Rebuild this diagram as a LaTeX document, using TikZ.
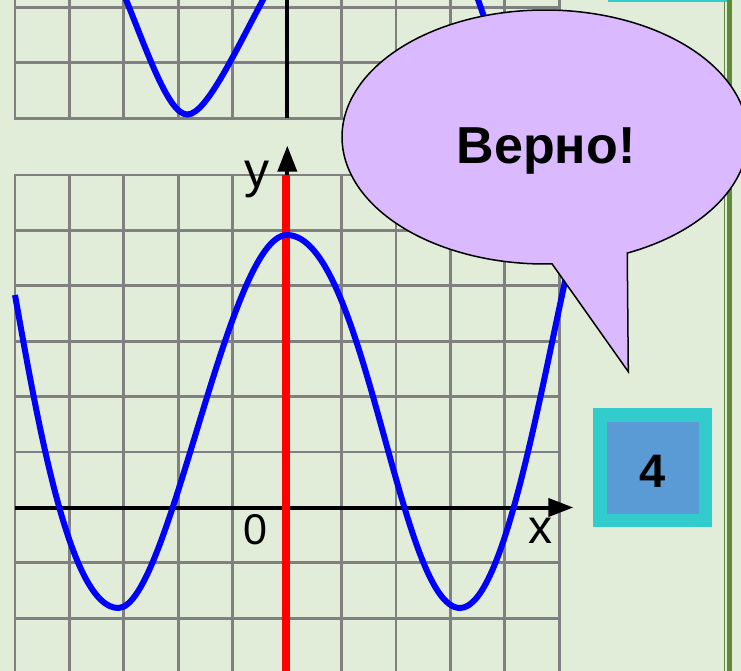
\documentclass[tikz,border=0pt]{standalone}
\usepackage{fontspec}
\setmainfont{Liberation Sans}
\usetikzlibrary{arrows.meta}
\definecolor{bg}{HTML}{E1EDD9}
\definecolor{gridgray}{HTML}{808080}
\definecolor{lav}{HTML}{DBB9FF}
\definecolor{cyanb}{HTML}{33CCCC}
\definecolor{bluef}{HTML}{5B9BD5}
\definecolor{barg}{HTML}{5E8A3A}
\begin{document}
\begin{tikzpicture}[x=1pt,y=-1pt,
  gridline/.style={draw=gridgray, line width=2.8pt},
  curve/.style={draw=blue, line width=6pt},
  axisline/.style={draw=black, line width=4pt},
  answerbox/.style={draw=cyanb, line width=13.3pt, fill=bluef, minimum width=105.7pt, minimum height=105.7pt, inner sep=0pt},
  lbl/.style={anchor=base, inner sep=0pt, text=black}]
\useasboundingbox (0,0) rectangle (741,671);
\clip (0,0) rectangle (741,671);
\fill[bg] (0,0) rectangle (741,671);
% upper grid
\foreach \i in {0,...,10} \draw[gridline] ({15+\i*54.43},-10) -- ({15+\i*54.43},118.3);
\foreach \yy in {7.5,62.9,118.3} \draw[gridline, line cap=rect] (15,\yy) -- (559.3,\yy);
% lower grid
\foreach \i in {0,...,10} \draw[gridline] ({15+\i*54.43},175) -- ({15+\i*54.43},690);
\foreach \j in {0,...,8} \draw[gridline, line cap=rect] (15,{175+\j*55.4}) -- (559.3,{175+\j*55.4});
% upper axis
\coordinate (uya) at (287.3,-10);
\coordinate (uyb) at (287.3,118.3);
\draw[draw=black, line width=4.2pt] (uya) -- (uyb);
% lower axes
\coordinate (xs) at (15,507.5);
\coordinate (xe) at (573.3,507.5);
\draw[axisline, -{Triangle[length=25pt,width=18pt]}] (xs) -- (xe);
\coordinate (ys) at (287.3,690);
\coordinate (ye) at (287.3,145.7);
\draw[axisline, -{Triangle[length=26pt,width=19pt]}] (ys) -- (ye);
\coordinate (rs) at (285.7,690);
\coordinate (re) at (285.7,175);
\draw[draw=red, line width=8pt] (rs) -- (re);
% upper curve
\draw[curve] (120,-15) .. controls (145.2,45) and (167.3,114.5) .. (187.3,114.5)
  .. controls (207.3,114.5) and (238,45) .. (271,-15);
\draw[curve] (474,-12) -- (492,40);
% lower curve
\draw[curve] (15,295) .. controls (38,424) and (70,608) .. (118.3,608)
  .. controls (168.9,608) and (228,235) .. (287,235)
  .. controls (364.9,235) and (399.5,608) .. (460,608)
  .. controls (505,608) and (542,380) .. (572,250);
% labels
\node[lbl, font=\fontsize{48}{56}\selectfont] (xlab) at (540,543.3) {x};
\node[lbl, font=\fontsize{50}{58}\selectfont] (ylab) at (256.5,188) {y};
\node[lbl, font=\fontsize{43}{50}\selectfont] (zlab) at (255,544) {0};
% right bar
\fill[barg] (724,0) rectangle (725.3,671);
\fill[barg] (727.3,0) rectangle (731.7,671);
% boxes
\node[answerbox] (topbox) at (667.5,-57.5) {};
\node[answerbox] (box4) at (652.8,467.8) {};
\node[lbl, font=\fontsize{47}{54}\selectfont\bfseries] (four) at (652.5,487.3) {4};
% callout
\coordinate (tip) at (628.3,371.7);
\draw[fill=lav, draw=black, line width=1.5pt, line join=miter] (tip) -- plot[domain=-272:66.1, samples=240, variable=\t] ({545+203*cos(\t)},{137+127*sin(\t)}) -- cycle;
\node[lbl, font=\fontsize{52}{60}\selectfont\bfseries] (verno) at (546,164) {Верно!};
\end{tikzpicture}
\end{document}
